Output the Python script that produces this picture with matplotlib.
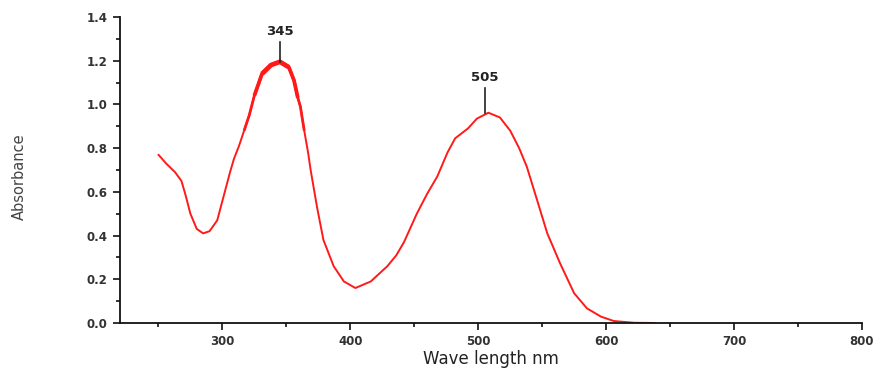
import matplotlib
matplotlib.use("Agg")
import matplotlib.pyplot as plt
from matplotlib.ticker import MultipleLocator, FixedLocator, FormatStrFormatter
import numpy as np

wavelength = [250, 256, 263, 268, 271, 275, 280, 285, 290, 296,
              301, 306, 309, 313, 317, 321, 325, 331, 338, 345,
              352, 356, 359, 361, 364, 367, 369, 374, 379, 387,
              395, 404, 416, 429, 436, 442, 452, 460, 468, 476,
              482, 492, 499, 508, 517, 525, 532, 538, 546, 554,
              564, 575, 585, 596, 606, 622, 638]
absorbance = [0.77, 0.73, 0.69, 0.65, 0.59, 0.50, 0.43, 0.41, 0.42, 0.47,
              0.58, 0.69, 0.75, 0.81, 0.88, 0.95, 1.04, 1.14, 1.18, 1.195,
              1.17, 1.11, 1.03, 0.99, 0.88, 0.78, 0.70, 0.53, 0.38, 0.26,
              0.19, 0.16, 0.19, 0.26, 0.31, 0.37, 0.50, 0.59, 0.67, 0.78,
              0.845, 0.89, 0.935, 0.962, 0.94, 0.88, 0.80, 0.715, 0.563, 0.41,
              0.273, 0.136, 0.067, 0.029, 0.009, 0.001, 0.0]

peak_labels = ["345", "505"]
peak_x = [345, 505]
peak_y = [1.195, 0.962]
label_y = [1.335, 1.125]

fig = plt.figure(figsize=(8.8, 3.69), dpi=100)
ax = fig.add_axes([0.1364, 0.1247, 0.9795 - 0.1364, 0.954 - 0.1247])

red = "#ff1a1a"
wl = np.array(wavelength)
ab = np.array(absorbance)
ax.plot(wl, ab, color=red, lw=1.4, solid_joinstyle="round", solid_capstyle="round")
# noisy (thicker) band around the UV peak, tapered
for lo, hi, w in [(317, 364, 2.0), (325, 359, 2.7), (331, 352, 3.4)]:
    m = (wl >= lo) & (wl <= hi)
    ax.plot(wl[m], ab[m], color=red, lw=w, solid_joinstyle="round",
            solid_capstyle="butt")

for lab, px, py, ly in zip(peak_labels, peak_x, peak_y, label_y):
    ax.plot([px, px], [py, ly - 0.05], color="#222222", lw=1.2)
    ax.text(px, ly, lab, ha="center", va="center", fontsize=9.5,
            fontweight="bold", color="#222222")

ax.set_xlim(220, 800)
ax.set_ylim(0, 1.4)
ax.xaxis.set_major_locator(FixedLocator([300, 400, 500, 600, 700, 800]))
ax.xaxis.set_minor_locator(FixedLocator([250, 350, 450, 550, 650, 750]))
ax.yaxis.set_major_locator(MultipleLocator(0.2))
ax.yaxis.set_minor_locator(MultipleLocator(0.1))
ax.yaxis.set_major_formatter(FormatStrFormatter("%.1f"))

for s in ["top", "right"]:
    ax.spines[s].set_visible(False)
for s in ["left", "bottom"]:
    ax.spines[s].set_linewidth(1.3)
    ax.spines[s].set_color("#111111")

ax.tick_params(which="major", direction="out", length=5, width=1.2, colors="#111111",
               labelsize=8.5, pad=4)
ax.tick_params(which="minor", direction="out", length=3, width=1.2, colors="#111111")
for t in ax.get_xticklabels() + ax.get_yticklabels():
    t.set_fontweight("bold")
    t.set_color("#333333")

ax.set_xlabel("Wave length nm", fontsize=12, color="#222222", labelpad=1)
fig.text(0.022, 0.52, "Absorbance", rotation=90, ha="center", va="center",
         fontsize=10.5, color="#444444", family=["Liberation Sans Narrow", "DejaVu Sans"])

fig.savefig("out.png", dpi=100)
